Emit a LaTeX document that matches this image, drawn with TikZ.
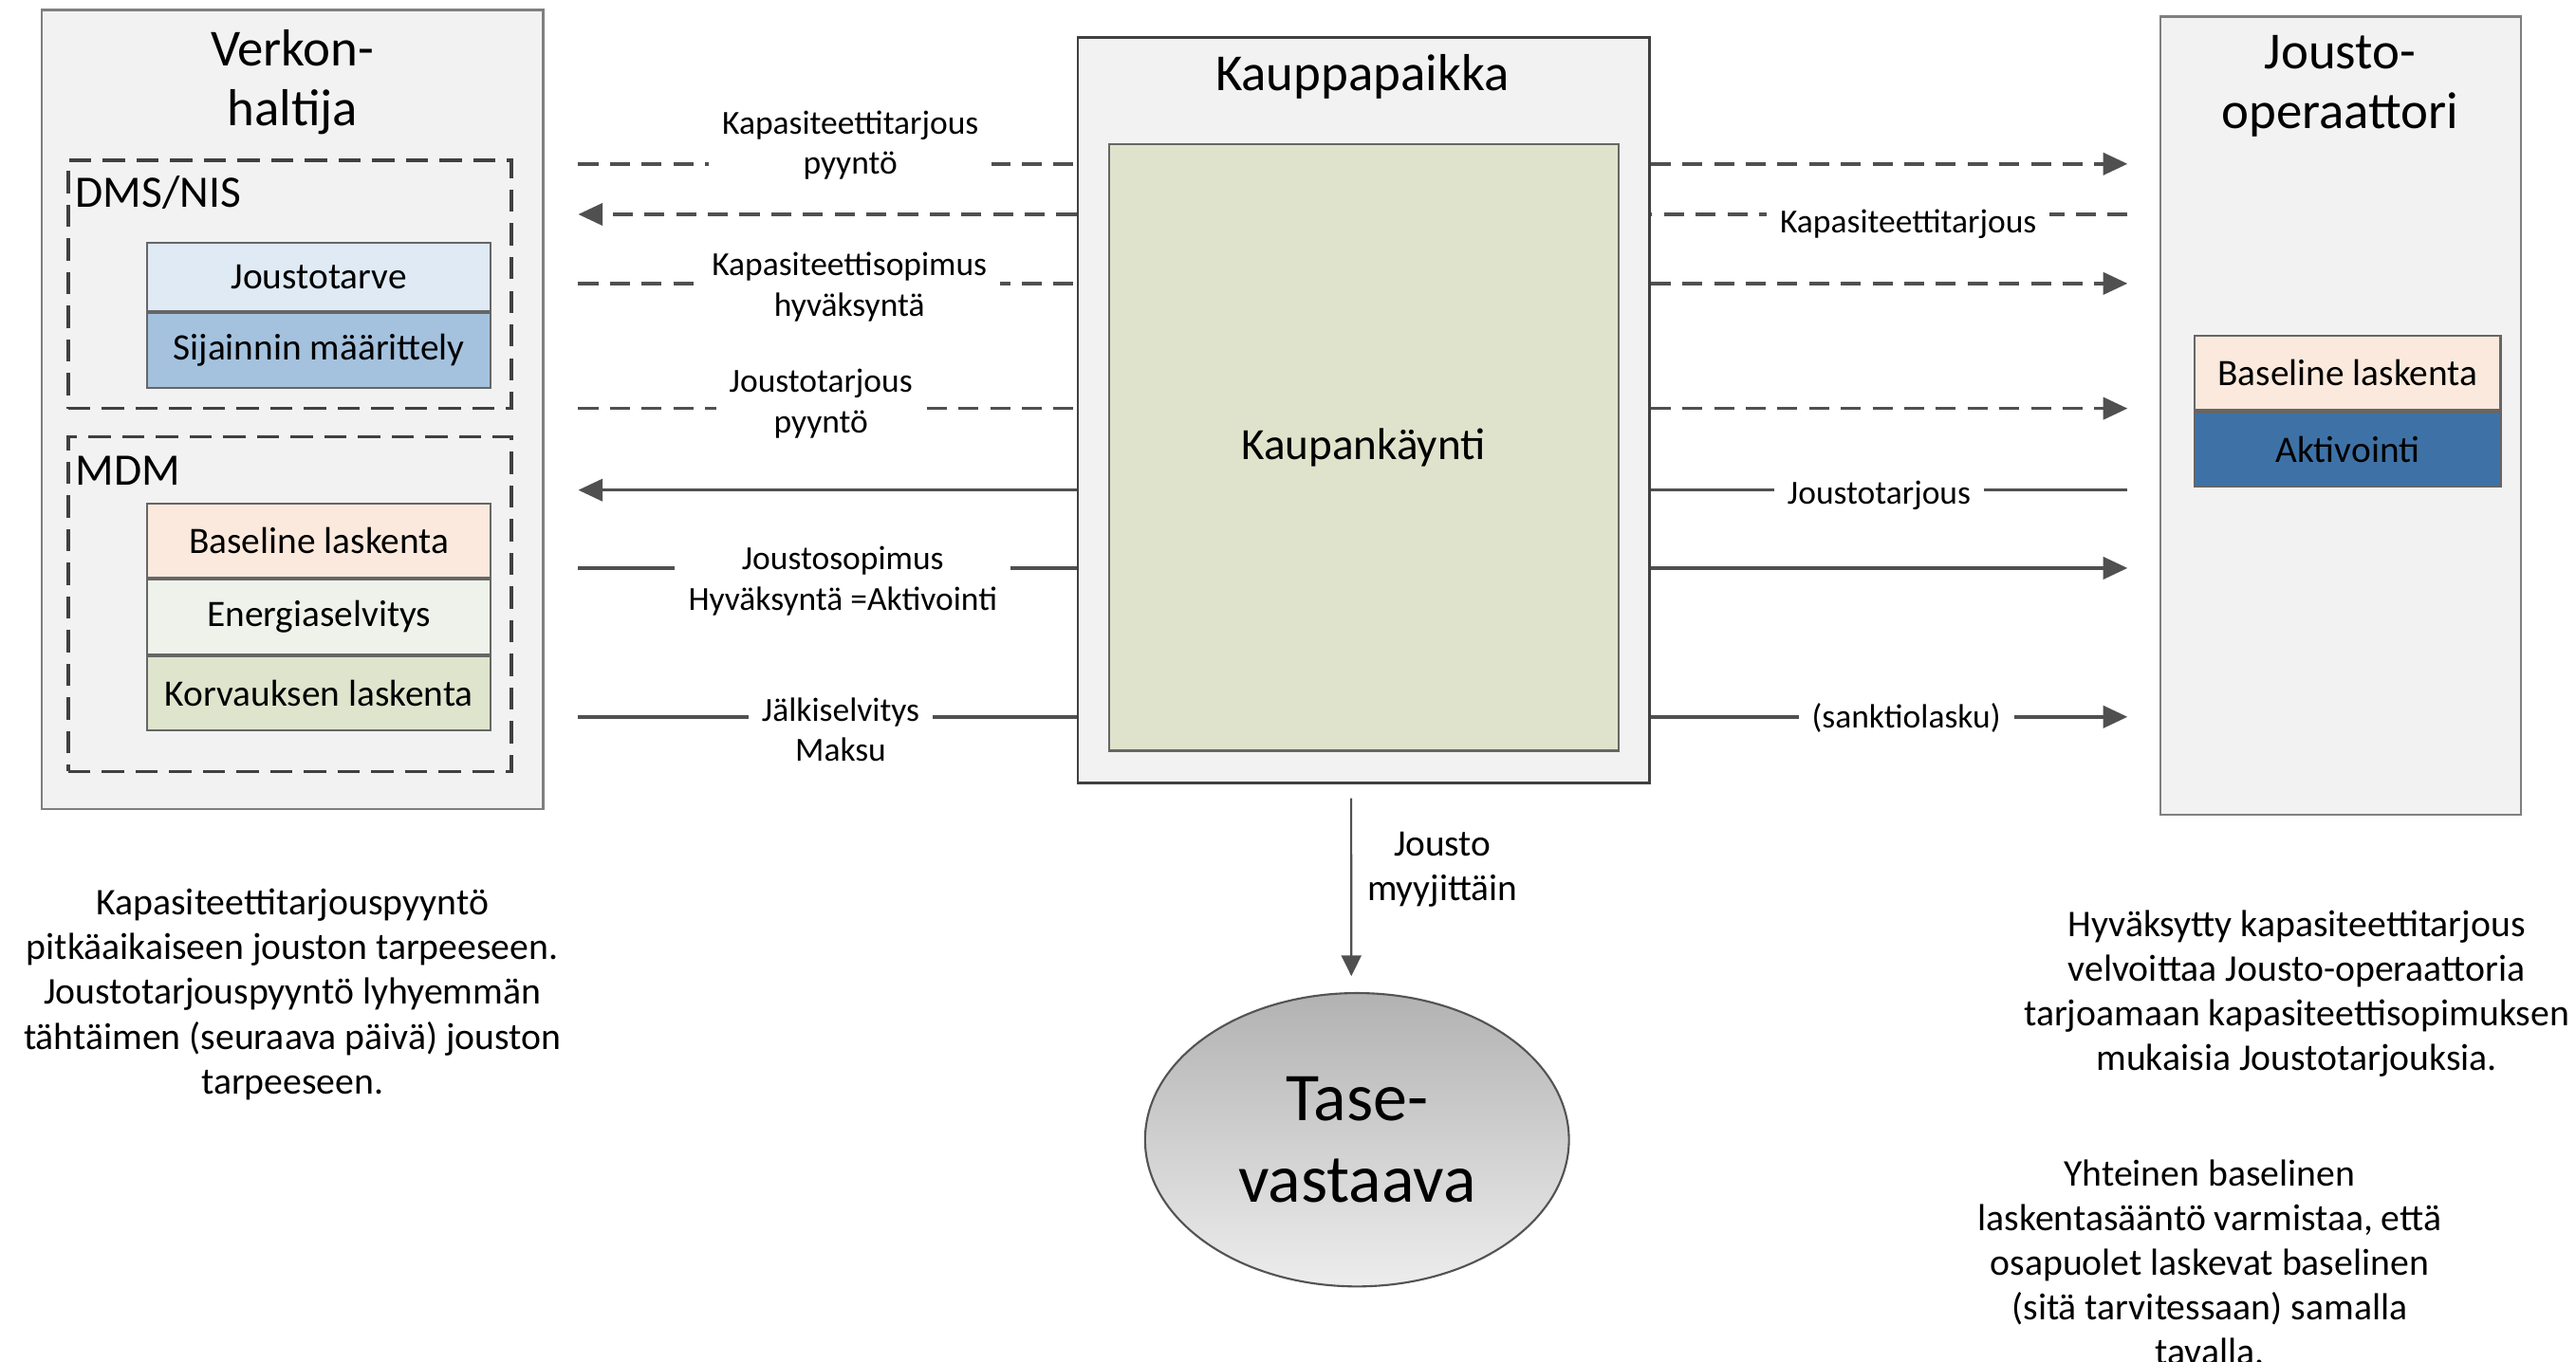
\documentclass[tikz,border=0pt]{standalone}
\usepackage{fontspec}
\setmainfont{Carlito}
\usepackage{xcolor}
\usepackage{tikz}
\usetikzlibrary{shapes,shapes.geometric,arrows,positioning,calc,arrows.meta}

\definecolor{boxgray}{HTML}{F2F2F2}
\definecolor{edgegray}{HTML}{7F7F7F}
\definecolor{kpedge}{HTML}{404040}
\definecolor{flowgray}{HTML}{505050}
\definecolor{jtarvec}{HTML}{DFEAF4}
\definecolor{sijc}{HTML}{A4C2DE}
\definecolor{basec}{HTML}{FAE9DC}
\definecolor{energc}{HTML}{EFF2EA}
\definecolor{korvc}{HTML}{DFE4CD}
\definecolor{kaupc}{HTML}{DFE3CB}
\definecolor{aktc}{HTML}{3E72A6}

\begin{document}
\begin{tikzpicture}[x=0.4926pt, y=-0.4926pt, font=\fontsize{10.1}{12.2}\selectfont,
    partybox/.style={draw=edgegray, fill=boxgray, line width=0.8pt, inner sep=0pt},
    sysbox/.style={draw=kpedge, line width=1pt, dash pattern=on 6.6pt off 3.5pt, inner sep=0pt},
    funcbox/.style={draw=kpedge!80, line width=0.6pt, minimum width=102.9pt, minimum height=22.3pt,
        inner sep=0pt, font=\fontsize{11.2}{13.4}\selectfont},
    title/.style={align=center, font=\fontsize{15.6}{17.9}\selectfont},
    lbl/.style={fill=white, align=center, inner xsep=4pt, inner ysep=2pt},
    note/.style={align=center, font=\fontsize{11.3}{13.4}\selectfont},
    flowdash/.style={draw=flowgray, line width=1pt, dash pattern=on 6pt off 3.5pt},
    flowline/.style={draw=flowgray, line width=1pt},
    tip/.style={-{Triangle[length=7.3pt,width=6.6pt]}}]
        \useasboundingbox (0,0) rectangle (1568,829.3);

        % Verkonhaltija
        \node[partybox, minimum width=150.4pt, minimum height=239.6pt] (verkon) at (178.05,249.45) {};
        \node[title] (verkonT) at (178,49.9) {Verkon-\\haltija};
        \node[sysbox, minimum width=132.9pt, minimum height=74.4pt] (dms) at (176.4,173.15) {};
        \node[anchor=west, inner sep=0pt, font=\fontsize{13.5}{15}\selectfont] (dmsT) at (45.6,117) {DMS/NIS};
        \node[funcbox, fill=jtarvec, minimum height=20.4pt] (jtarve) at (194.2,168.75) {Joustotarve};
        \node[funcbox, fill=sijc, below=0pt of jtarve] (sijainti) {Sijainnin määrittely};
        \node[sysbox, minimum width=132.9pt, minimum height=100.4pt] (mdm) at (176.4,367.9) {};
        \node[anchor=west, inner sep=0pt, font=\fontsize{13.5}{15}\selectfont] (mdmT) at (45.6,286.6) {MDM};
        \node[funcbox, fill=basec] (baseline) at (194.2,329.15) {Baseline laskenta};
        \node[funcbox, fill=energc, below=0pt of baseline] (energia) {Energiaselvitys};
        \node[funcbox, fill=korvc, below=0pt of energia] (korvaus) {Korvauksen laskenta};

        % Kauppapaikka
        \node[partybox, draw=kpedge, minimum width=171.4pt, minimum height=223.6pt] (kp) at (830,249.8) {};
        \node[title] (kpT) at (829.2,46.9) {Kauppapaikka};
        \node[draw=kpedge!80, fill=kaupc, line width=0.6pt, minimum width=152.7pt, minimum height=181.9pt,
            font=\fontsize{13.4}{16}\selectfont] (kaupankaynti) at (830.05,272.45) {Kaupankäynti};

        % Jousto-operaattori
        \node[partybox, minimum width=108.1pt, minimum height=239.4pt] (jousto) at (1424.75,253.05) {};
        \node[title] (joustoT) at (1424.5,52.3) {Jousto-\\operaattori};
        \node[funcbox, fill=basec, minimum width=91.7pt, minimum height=22.2pt] (jbaseline) at (1429,227.2) {Baseline laskenta};
        \node[funcbox, fill=aktc, minimum width=91.7pt, minimum height=22.4pt, below=0pt of jbaseline] (aktivointi) {Aktivointi};

        % Tasevastaava
        \node[ellipse, draw=kpedge!90, line width=0.6pt, top color={rgb,255:red,178;green,178;blue,178},
            bottom color={rgb,255:red,237;green,237;blue,237}, minimum width=127.1pt, minimum height=88pt,
            align=center, font=\fontsize{20.5}{24.6}\selectfont] (tase) at (826,694) {Tase-\\vastaava};

        % flows
        \foreach \n/\y in {1/99.8, 2/130.5, 3/172.6, 4/248.7, 5/298.4, 6/345.9, 7/436.5}{
            \coordinate (a\n) at (352,\y);
            \coordinate (b\n) at (1295,\y);
        }
        \draw[flowdash] (a1) -- (a1 -| kp.west);
        \draw[flowdash, tip] (b1 -| kp.east) -- (b1);
        \draw[flowdash, tip] (a2 -| kp.west) -- (a2);
        \draw[flowdash] (b2) -- (b2 -| kp.east);
        \draw[flowdash] (a3) -- (a3 -| kp.west);
        \draw[flowdash, tip] (b3 -| kp.east) -- (b3);
        \draw[flowdash] (a4) -- (a4 -| kp.west);
        \draw[flowdash, tip] (b4 -| kp.east) -- (b4);
        \draw[flowline, tip] (a5 -| kp.west) -- (a5);
        \draw[flowline] (b5) -- (b5 -| kp.east);
        \draw[flowline] (a6) -- (a6 -| kp.west);
        \draw[flowline, tip] (b6 -| kp.east) -- (b6);
        \draw[flowline] (a7) -- (a7 -| kp.west);
        \draw[flowline, tip] (b7 -| kp.east) -- (b7);

        \node[lbl] (l1) at (517.6,88.4) {Kapasiteettitarjous\\pyyntö};
        \node[lbl] (l3) at (517,174.7) {Kapasiteettisopimus\\hyväksyntä};
        \node[lbl] (l4) at (499.7,245.8) {Joustotarjous\\pyyntö};
        \node[lbl] (l6) at (513,353.6) {Joustosopimus\\Hyväksyntä =Aktivointi};
        \node[lbl] (l7) at (511.7,444.3) {Jälkiselvitys\\Maksu};
        \node[lbl] (r2) at (1161.5,136.2) {Kapasiteettitarjous};
        \node[lbl] (r5) at (1143.8,301.6) {Joustotarjous};
        \node[lbl] (r7) at (1160.3,437.2) {(sanktiolasku)};

        % Jousto myyjittäin
        \draw[draw=flowgray, line width=0.6pt, -{Triangle[length=6.2pt,width=6pt]}]
            ([xshift=-3.7pt,yshift=-4.2pt]kp.south) -- ([xshift=-1.7pt,yshift=4.8pt]tase.north);
        \node[note, font=\fontsize{11.2}{13.4}\selectfont] (myynti) at (878,529.2) {Jousto\\myyjittäin};

        % notes
        \node[note] (noteL) at (178,605.5) {Kapasiteettitarjouspyyntö\\pitkäaikaiseen jouston tarpeeseen.\\Joustotarjouspyyntö lyhyemmän\\tähtäimen (seuraava päivä) jouston\\tarpeeseen.};
        \node[note] (noteR) at (1398,605) {Hyväksytty kapasiteettitarjous\\velvoittaa Jousto-operaattoria\\tarjoamaan kapasiteettisopimuksen\\mukaisia Joustotarjouksia.};
        \node[note] (noteB) at (1345,768.5) {Yhteinen baselinen\\laskentasääntö varmistaa, että\\osapuolet laskevat baselinen\\(sitä tarvitessaan) samalla\\tavalla.};
    \end{tikzpicture}
\end{document}
